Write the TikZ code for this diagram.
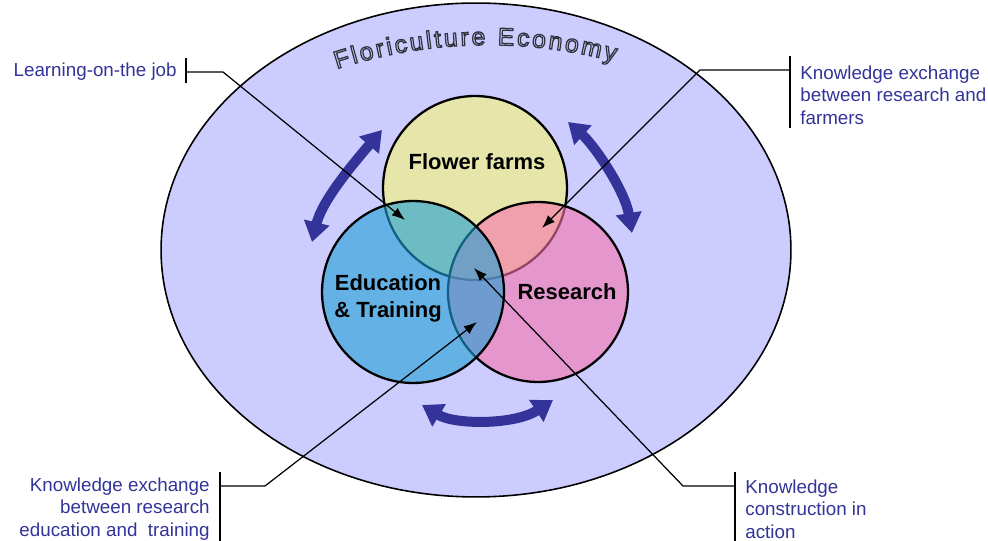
\documentclass[tikz,border=0pt]{standalone}
\usepackage{fontspec}
\setmainfont{Liberation Sans}
\setsansfont{Liberation Sans}
\usepackage{tikz}
\usetikzlibrary{positioning, arrows.meta, shapes.geometric, decorations.text}
\definecolor{ecoLav}{RGB}{204, 204, 255}
\definecolor{farmYel}{RGB}{230, 230, 170}
\definecolor{eduBlue}{RGB}{31, 161, 213}
\definecolor{resPink}{RGB}{247, 114, 172}
\definecolor{accNavy}{RGB}{51, 51, 153}
\definecolor{ttlGray}{RGB}{50, 50, 60}
\newcommand{\ttlfont}{\fontsize{14pt}{16pt}\selectfont\special{pdf:literal 1 Tr 0.7 w}}

\begin{document}
\begin{tikzpicture}[
    x=0.02cm, y=0.02cm, font=\sffamily,
    zone/.style={circle, draw=black, line width=1.3pt, inner sep=0pt},
    lbl/.style={font=\sffamily\bfseries\fontsize{12.5pt}{15.3pt}\selectfont, align=center},
    note/.style={font=\sffamily\fontsize{10.7pt}{12.8pt}\selectfont, text=accNavy, inner sep=0pt},
    lead/.style={line width=0.7pt},
    ptr/.style={lead, -{Latex[length=7.5pt, width=5.5pt]}},
    cyc/.style={line width=0.2cm, draw=accNavy,
        {Triangle[width=0.5cm, length=0.4cm]}-{Triangle[width=0.5cm, length=0.4cm]}}
]
\useasboundingbox (0,0) rectangle (988,541);

% economy and the three circles
\node[ellipse, draw, line width=0.9pt, fill=ecoLav, minimum width=12.6cm, minimum height=9.88cm] (eco) at (476,291) {};
\node[zone, fill=farmYel, minimum size=3.68cm] (farm) at (475,353) {};
\node[zone, fill=resPink, fill opacity=0.6, minimum size=3.6cm] (res) at (538,249) {};
\node[zone, fill=eduBlue, fill opacity=0.6, minimum size=3.64cm] (edu) at (413,249) {};

\node[lbl] (farmTxt) at (477,379) {Flower farms};
\node[lbl] (eduTxt)  at (388,243) {Education\\\& Training};
\node[lbl] (resTxt)  at (567,249) {Research};

% exchange arrows
\coordinate (cL1) at (382,411); \coordinate (cL2) at (312,299);
\coordinate (cR1) at (568,419); \coordinate (cR2) at (632,308);
\coordinate (cB1) at (422,136); \coordinate (cB2) at (553,141);
\draw[cyc] (cL1) .. controls (352,376) and (322,340) .. (cL2);
\draw[cyc] (cR1) .. controls (595,395) and (625,350) .. (cR2);
\draw[cyc] (cB1) .. controls (455,116) and (515,116) .. (cB2);

% callouts
\node[note, anchor=east] (jobTxt) at (177,469) {Learning-on-the job};
\node[note, anchor=west, align=left] (frmTxt) at (800,446) {Knowledge exchange\\between research and\\farmers};
\node[note, anchor=east, align=right] (edxTxt) at (210,32) {Knowledge exchange\\between research\\education and\ \ training};
\node[note, anchor=west, align=left] (actTxt) at (745,32) {Knowledge\\construction in\\action};

\coordinate (jobTop) at (186,483); \coordinate (jobBot) at (186,458);
\coordinate (jobBar) at (186,469); \coordinate (jobKnee) at (223,469); \coordinate (jobTip) at (405,321);
\coordinate (frmTop) at (790,485); \coordinate (frmBot) at (790,413);
\coordinate (frmBar) at (790,471); \coordinate (frmKnee) at (700,471); \coordinate (frmTip) at (542,313);
\coordinate (edxTop) at (220,69);  \coordinate (edxBot) at (220,0);
\coordinate (edxBar) at (220,55);  \coordinate (edxKnee) at (265,55);  \coordinate (edxTip) at (477,219);
\coordinate (actTop) at (735,69);  \coordinate (actBot) at (735,0);
\coordinate (actBar) at (735,55);  \coordinate (actKnee) at (683,55);  \coordinate (actTip) at (474,273);

\foreach \n in {job, frm, edx, act} {
    \draw[lead] (\n Top) -- (\n Bot);
    \draw[ptr] (\n Bar) -- (\n Knee) -- (\n Tip);
}

% title along the rim
\coordinate (ttlC) at (488,7);
\path[decorate, decoration={text along path, text={|\ttlfont|Floriculture Economy},
    text align=fit to path, text color=ttlGray}]
    ([shift={(108:489)}]ttlC) arc[start angle=108, end angle=75, radius=489];
\end{tikzpicture}
\end{document}
